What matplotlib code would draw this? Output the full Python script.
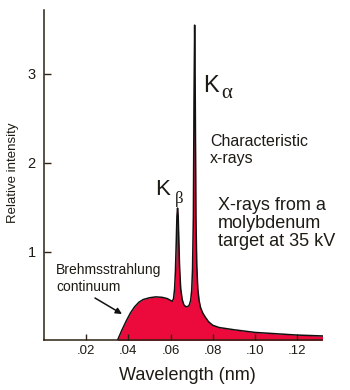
import matplotlib
matplotlib.use("Agg")
import matplotlib.pyplot as plt

# spectrum (wavelength in nm, relative intensity)
wavelength = [0.0348, 0.0370, 0.0390, 0.0410, 0.0430, 0.0450, 0.0470, 0.0500,
              0.0530, 0.0560, 0.0585, 0.0600, 0.0608, 0.0614, 0.0619, 0.0623,
              0.0627, 0.0630, 0.0633, 0.0636, 0.0639, 0.0643, 0.0648, 0.0655,
              0.0663, 0.0672, 0.0681, 0.0689, 0.0695, 0.0700, 0.0704, 0.0708,
              0.0711, 0.0714, 0.0717, 0.0720, 0.0724, 0.0729, 0.0735, 0.0742,
              0.0752, 0.0765, 0.0780, 0.0800, 0.0830, 0.0900, 0.1000, 0.1100,
              0.1200, 0.1320]
intensity = [0.00, 0.12, 0.22, 0.31, 0.38, 0.43, 0.46, 0.48,
             0.49, 0.485, 0.47, 0.45, 0.44, 0.47, 0.58, 0.78,
             1.12, 1.40, 1.49, 1.40, 1.12, 0.80, 0.58, 0.46,
             0.40, 0.38, 0.38, 0.40, 0.45, 0.56, 0.80, 1.40,
             2.70, 3.55, 2.70, 1.40, 0.85, 0.58, 0.45, 0.37,
             0.31, 0.26, 0.21, 0.17, 0.145, 0.12, 0.09, 0.075,
             0.06, 0.05]

xticks = [0.02, 0.04, 0.06, 0.08, 0.10, 0.12]
xtick_labels = ['.02', '.04', '.06', '.08', '.10', '.12']
yticks = [1, 2, 3]

W, H = 350, 390
ink = '#1e1a14'
axis_col = '#2e2214'
red = '#ec0a3c'

plt.rcParams['font.family'] = ['Liberation Sans', 'DejaVu Sans']

fig = plt.figure(figsize=(3.5, 3.9), dpi=100)
ax = fig.add_axes([44 / W, 1 - 340.4 / H, 278.5 / W, 330.4 / H])

ax.fill_between(wavelength, intensity, 0, color=red, linewidth=0)
ax.plot(wavelength, intensity, color='#111111', linewidth=1.1)

ax.set_xlim(0, 0.132)
ax.set_ylim(0, 3.72)
ax.set_xticks(xticks)
ax.set_xticklabels(xtick_labels)
ax.set_yticks(yticks)

for side in ['top', 'right']:
    ax.spines[side].set_visible(False)
for side in ['left', 'bottom']:
    ax.spines[side].set_color(axis_col)
    ax.spines[side].set_linewidth(1.1)

ax.tick_params(axis='x', direction='in', length=4.5, width=1.0, color=axis_col,
               labelsize=9.5, labelcolor=ink, pad=3)
ax.tick_params(axis='y', direction='in', length=5, width=1.0, color=axis_col,
               labelsize=10.5, labelcolor=ink, pad=6)


def ftext(px, py, s, **kw):
    # place text by pixel position in the 350x390 image (y from top)
    kw.setdefault('color', ink)
    kw.setdefault('va', 'baseline')
    return fig.text(px / W, 1 - py / H, s, **kw)


# axis titles
ftext(187, 375, 'Wavelength (nm)', fontsize=13, ha='center', va='center')
ftext(13, 173, 'Relative intensity', fontsize=9.5, rotation=90,
      ha='center', va='center')

# peak labels
ftext(203, 92, 'K', fontsize=17)
ftext(221, 97.5, 'α', fontsize=15, family='Liberation Serif')
ftext(155, 195, 'K', fontsize=16)
ftext(175, 203, 'β', fontsize=12, family='Liberation Serif')

ftext(210, 146, 'Characteristic', fontsize=11.5)
ftext(210, 163, 'x-rays', fontsize=11.5)

ftext(218, 210, 'X-rays from a', fontsize=13)
ftext(218, 228, 'molybdenum', fontsize=13)
ftext(218, 246, 'target at 35 kV', fontsize=13)

ftext(56, 274, 'Brehmsstrahlung', fontsize=10)
ftext(56, 291, 'continuum', fontsize=10)

ax.annotate('', xy=(122 / W, 1 - 314 / H), xycoords='figure fraction',
            xytext=(95 / W, 1 - 298 / H), textcoords='figure fraction',
            arrowprops=dict(arrowstyle='-|>', color='#111111', lw=1.1,
                            mutation_scale=9, shrinkA=0, shrinkB=0))

fig.savefig('out.png', dpi=100, facecolor='white')
